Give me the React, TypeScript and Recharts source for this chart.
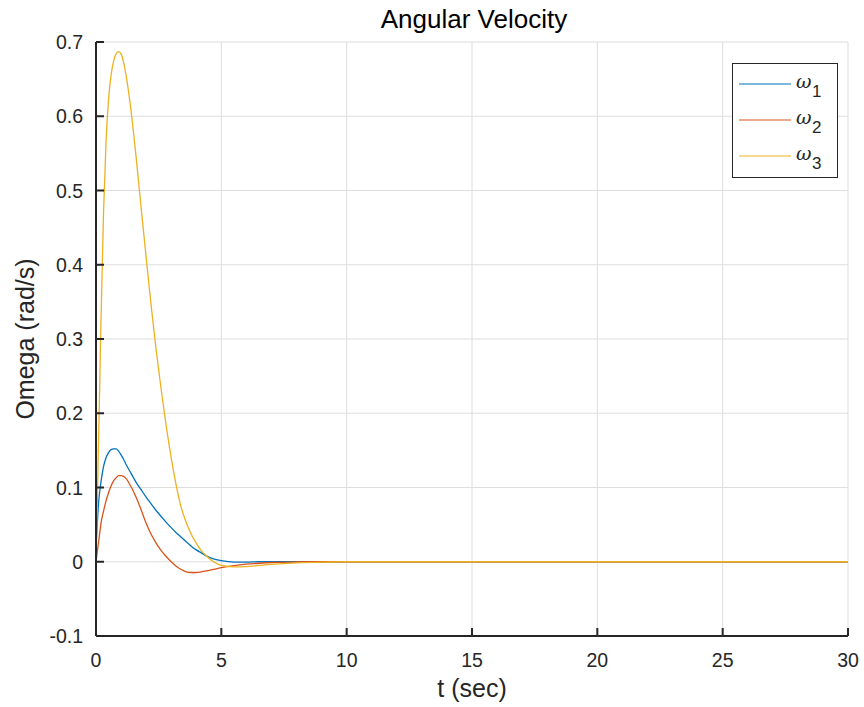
import React from 'react'
import { LineChart, Line, XAxis, YAxis, CartesianGrid } from 'recharts'

// time samples (sec)
const timeSec = [
  0, 0.05, 0.1, 0.15, 0.2, 0.3, 0.4, 0.5, 0.6, 0.7, 0.8, 0.9, 1.0, 1.1, 1.2, 1.4, 1.6, 1.8, 2.0, 2.2,
  2.4, 2.6, 2.8, 3.0, 3.2, 3.4, 3.6, 3.8, 4.0, 4.2, 4.4, 4.6, 4.8, 5.0, 5.5, 6.0, 6.5, 7.0, 8.0, 9.0,
  10, 15, 20, 25, 30,
]

const omega1 = [
  0.021, 0.05, 0.078, 0.095, 0.108, 0.128, 0.14, 0.147, 0.151, 0.152, 0.152, 0.149, 0.144, 0.138, 0.131,
  0.119, 0.107, 0.097, 0.087, 0.078, 0.069, 0.061, 0.053, 0.046, 0.039, 0.033, 0.027, 0.021, 0.016, 0.012,
  0.008, 0.005, 0.003, 0.0015, -0.0005, -0.0005, 0, 0, 0, 0, 0, 0, 0, 0, 0,
]

const omega2 = [
  0, 0.013, 0.026, 0.039, 0.052, 0.068, 0.082, 0.093, 0.102, 0.109, 0.113, 0.116, 0.116, 0.115, 0.112,
  0.101, 0.087, 0.07, 0.052, 0.037, 0.025, 0.015, 0.007, 0.0, -0.006, -0.0105, -0.0135, -0.0145, -0.0145,
  -0.0135, -0.0123, -0.011, -0.0095, -0.008, -0.0052, -0.0033, -0.002, -0.001, -0.0003, 0, 0, 0, 0, 0, 0,
]

const omega3 = [
  0, 0.08, 0.16, 0.24, 0.325, 0.47, 0.565, 0.622, 0.655, 0.674, 0.684, 0.687, 0.684, 0.673, 0.655,
  0.607, 0.545, 0.477, 0.41, 0.345, 0.285, 0.232, 0.183, 0.14, 0.103, 0.073, 0.053, 0.037, 0.025, 0.015,
  0.008, 0.002, -0.002, -0.005, -0.007, -0.0065, -0.005, -0.0035, -0.0015, -0.0005, 0, 0, 0, 0, 0,
]

const xTicks = [0, 5, 10, 15, 20, 25, 30]
const yTicks = [-0.1, 0, 0.1, 0.2, 0.3, 0.4, 0.5, 0.6, 0.7]

const seriesNames = ['1', '2', '3']
const seriesColors = ['#0072BD', '#D95319', '#EDB120']

const rows = timeSec.map((t, i) => ({ t, w1: omega1[i], w2: omega2[i], w3: omega3[i] }))

const FONT = "'Liberation Sans', Arial, Helvetica, sans-serif"
const INK = '#262626'
const TICK = 8

// ticks point into the plot, like MATLAB
function BottomTick({ x, y, payload }: any) {
  return (
    <g>
      <line x1={x} x2={x} y1={y} y2={y - TICK} stroke={INK} strokeWidth={2} />
      <text x={x} y={y + 31} textAnchor="middle" fontSize={19.5} fill={INK} fontFamily={FONT}>
        {payload.value}
      </text>
    </g>
  )
}

function TopTick({ x, y }: any) {
  return <line x1={x} x2={x} y1={y} y2={y + TICK} stroke={INK} strokeWidth={2} />
}

function LeftTick({ x, y, payload }: any) {
  return (
    <g>
      <line x1={x} x2={x + TICK} y1={y} y2={y} stroke={INK} strokeWidth={2} />
      <text x={x - 13} y={y + 7} textAnchor="end" fontSize={19.5} fill={INK} fontFamily={FONT}>
        {payload.value}
      </text>
    </g>
  )
}

function RightTick({ x, y }: any) {
  return <line x1={x} x2={x - TICK} y1={y} y2={y} stroke={INK} strokeWidth={2} />
}

function YLabel(props: any) {
  const vb = props.viewBox || {}
  const cx = vb.x + 34
  const cy = vb.y + vb.height / 2
  return (
    <text x={cx} y={cy} transform={`rotate(-90 ${cx} ${cy})`} textAnchor="middle" fontSize={25} fill={INK} fontFamily={FONT}>
      Omega (rad/s)
    </text>
  )
}

function XLabel(props: any) {
  const vb = props.viewBox || {}
  return (
    <text x={vb.x + vb.width / 2} y={vb.y + 61} textAnchor="middle" fontSize={25} fill={INK} fontFamily={FONT}>
      t (sec)
    </text>
  )
}

function LegendBox() {
  return (
    <svg width={106} height={115} style={{ position: 'absolute', left: 732, top: 63, display: 'block' }}>
      <rect x={0.5} y={0.5} width={105} height={114} fill="#fff" stroke={INK} strokeWidth={1} />
      {seriesNames.map((n, i) => {
        const y = 21 + i * 36
        return (
          <g key={n}>
            <line x1={7} x2={59} y1={y} y2={y} stroke={seriesColors[i]} strokeWidth={1.2} />
            <text x={64} y={y + 4} fontSize={19} fontStyle="italic" fill={INK} fontFamily="'DejaVu Serif', serif">
              ω
            </text>
            <text x={80} y={y + 13} fontSize={17} fill={INK} fontFamily={FONT}>
              {n}
            </text>
          </g>
        )
      })}
    </svg>
  )
}

export default function App() {
  return (
    <div style={{ position: 'absolute', left: 0, top: 0, width: 864, height: 707, background: '#fff' }}>
      <LineChart width={864} height={707} data={rows} margin={{ top: 42, right: 16, bottom: 0, left: 0 }}>
        <text x={474} y={28} textAnchor="middle" fontSize={26} fill="#000" fontFamily={FONT}>
          Angular Velocity
        </text>
        <CartesianGrid xAxisId="b" yAxisId="l" stroke="#dedede" strokeWidth={1} />
        <XAxis
          xAxisId="b"
          dataKey="t"
          type="number"
          domain={[0, 30]}
          ticks={xTicks}
          interval={0}
          height={71}
          axisLine={{ stroke: INK, strokeWidth: 2 }}
          tickLine={false}
          tickSize={0}
          tickMargin={0}
          tick={<BottomTick />}
          label={<XLabel />}
          allowDataOverflow
        />
        <XAxis
          xAxisId="top"
          orientation="top"
          type="number"
          domain={[0, 30]}
          ticks={xTicks}
          interval={0}
          height={0}
          axisLine={{ stroke: INK, strokeWidth: 2 }}
          tickLine={false}
          tickSize={0}
          tickMargin={0}
          tick={<TopTick />}
        />
        <YAxis
          yAxisId="l"
          type="number"
          domain={[-0.1, 0.7]}
          ticks={yTicks}
          interval={0}
          width={96}
          axisLine={{ stroke: INK, strokeWidth: 2 }}
          tickLine={false}
          tickSize={0}
          tickMargin={0}
          tick={<LeftTick />}
          label={<YLabel />}
          allowDataOverflow
        />
        <YAxis
          yAxisId="r"
          orientation="right"
          type="number"
          domain={[-0.1, 0.7]}
          ticks={yTicks}
          interval={0}
          width={0}
          axisLine={{ stroke: INK, strokeWidth: 2 }}
          tickLine={false}
          tickSize={0}
          tickMargin={0}
          tick={<RightTick />}
        />
        {['w1', 'w2', 'w3'].map((k, i) => (
          <Line
            key={k}
            xAxisId="b"
            yAxisId="l"
            dataKey={k}
            type="monotone"
            stroke={seriesColors[i]}
            strokeWidth={1.3}
            dot={false}
            isAnimationActive={false}
          />
        ))}
      </LineChart>
      <LegendBox />
    </div>
  )
}
